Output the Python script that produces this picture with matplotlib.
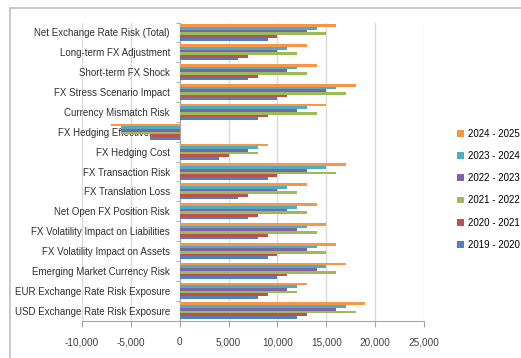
import numpy as np
import matplotlib.pyplot as plt
from matplotlib.lines import Line2D
from matplotlib.patches import Patch

plt.rcParams['font.family'] = ['Liberation Sans', 'DejaVu Sans']

categories = [
    "Net Exchange Rate Risk (Total)",
    "Long-term FX Adjustment",
    "Short-term FX Shock",
    "FX Stress Scenario Impact",
    "Currency Mismatch Risk",
    "FX Hedging Effectiveness",
    "FX Hedging Cost",
    "FX Transaction Risk",
    "FX Translation Loss",
    "Net Open FX Position Risk",
    "FX Volatility Impact on Liabilities",
    "FX Volatility Impact on Assets",
    "Emerging Market Currency Risk",
    "EUR Exchange Rate Risk Exposure",
    "USD Exchange Rate Risk Exposure",
]

periods = ["2019 - 2020", "2020 - 2021", "2021 - 2022",
           "2022 - 2023", "2023 - 2024", "2024 - 2025"]

fy2019 = [9000, 6000, 7000, 10000, 8000, -3000, 4000, 9000, 6000, 7000, 8000, 9000, 10000, 8000, 12000]
fy2020 = [10000, 7000, 8000, 11000, 9000, -3000, 5000, 10000, 7000, 8000, 9000, 10000, 11000, 9000, 13000]
fy2021 = [15000, 12000, 13000, 17000, 14000, -6000, 8000, 16000, 12000, 13000, 14000, 15000, 16000, 12000, 18000]
fy2022 = [13000, 10000, 11000, 15000, 12000, -6000, 7000, 13000, 10000, 11000, 12000, 13000, 14000, 11000, 16000]
fy2023 = [14000, 11000, 12000, 16000, 13000, -6000, 8000, 15000, 11000, 12000, 13000, 14000, 15000, 12000, 17000]
fy2024 = [16000, 13000, 14000, 18000, 15000, -7000, 9000, 17000, 13000, 14000, 15000, 16000, 17000, 13000, 19000]

series = [fy2019, fy2020, fy2021, fy2022, fy2023, fy2024]
colors = ["#4F81BD", "#C0504D", "#9BBB59", "#8064A2", "#4BACC6", "#F79646"]

W, H = 521, 358
fig = plt.figure(figsize=(W / 100, H / 100), dpi=100)

# outer chart frame (runs off the right and bottom edges)
fig.add_artist(Line2D([10 / W, 1], [1 - 7.5 / H, 1 - 7.5 / H], color="#bfbfbf", lw=1.2))
fig.add_artist(Line2D([10 / W, 10 / W], [0, 1 - 7.5 / H], color="#bfbfbf", lw=1.2))

ax = fig.add_axes([82 / W, 1 - 320.5 / H, (424 - 82) / W, (320.5 - 22.5) / H])

y = np.arange(len(categories))
bar_h = 0.136
n = len(series)
for i, (vals, c) in enumerate(zip(series, colors)):
    # first series sits at the bottom of each group
    off = (n - 1 - i - (n - 1) / 2) * bar_h
    ax.barh(y + off, vals, height=bar_h, color=c, zorder=3,
            edgecolor="none")

ax.set_ylim(len(categories) - 0.5, -0.5)
ax.set_xlim(-10000, 25000)

ax.tick_params(axis="y", which="major", length=0, pad=7,
               labelsize=7, labelcolor="#303030")
ax.tick_params(axis="y", which="minor", length=3, color="#a6a6a6", direction="out")
ax.tick_params(axis="x", length=4, color="#a6a6a6", pad=8,
               labelsize=7.2, labelcolor="#404040")

xt = np.arange(-10000, 25001, 5000)
ax.set_xticks(xt)
ax.set_xticklabels([f"{v:,}" for v in xt])
ax.xaxis.grid(True, color="#d9d9d9", lw=1.0, zorder=0)
ax.set_axisbelow(True)

ax.set_yticks(y)
ax.set_yticklabels(categories)
ax.set_yticks(np.arange(-0.5, len(categories), 1), minor=True)

ax.spines["left"].set_position(("data", 0))
ax.spines["left"].set_color("#a6a6a6")
ax.spines["bottom"].set_color("#a6a6a6")
ax.spines["top"].set_visible(False)
ax.spines["right"].set_visible(False)

handles = [Patch(facecolor=c, edgecolor="none") for c in colors][::-1]
fig.legend(handles, periods[::-1], loc="upper left",
           bbox_to_anchor=(453 / W, 1 - 125 / H), frameon=False,
           fontsize=7, labelspacing=1.25, handlelength=0.7,
           handleheight=0.7, handletextpad=0.4, borderaxespad=0)

fig.savefig("out.png", dpi=100)
